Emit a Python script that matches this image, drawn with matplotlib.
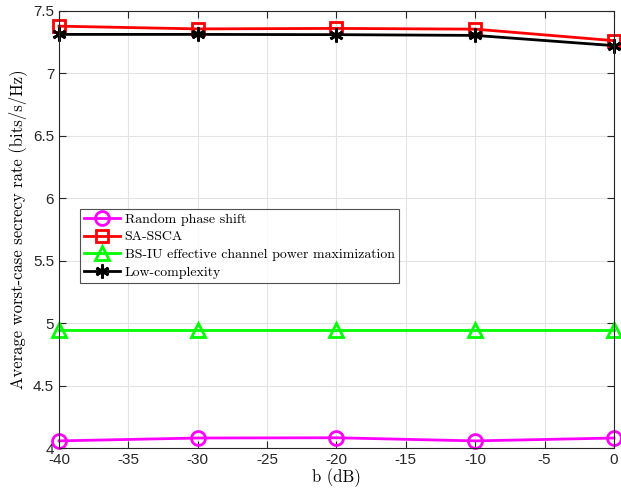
import matplotlib
matplotlib.use("Agg")
import matplotlib.pyplot as plt

b_db = [-40, -30, -20, -10, 0]
random_phase = [4.057, 4.08, 4.082, 4.057, 4.08]
sa_ssca = [7.378, 7.356, 7.36, 7.354, 7.262]
bs_iu = [4.946, 4.946, 4.946, 4.946, 4.946]
low_complexity = [7.312, 7.312, 7.31, 7.304, 7.222]

xticks = [-40, -35, -30, -25, -20, -15, -10, -5, 0]
yticks = [4, 4.5, 5, 5.5, 6, 6.5, 7, 7.5]
yticklabels = ["4", "4.5", "5", "5.5", "6", "6.5", "7", "7.5"]

plt.rcParams['axes.unicode_minus'] = False
fig = plt.figure(figsize=(6.21, 4.90), dpi=100)
ax = fig.add_axes([0.095, 0.0857, 0.8937, 0.892])

lw = 2.0
ax.plot(b_db, random_phase, color='#ff00ff', marker='o', ms=10, mfc='none', mew=2, lw=lw, label='Random phase shift', clip_on=False)
ax.plot(b_db, sa_ssca, color='#ff0000', marker='s', ms=9, mfc='none', mew=2, lw=lw, label='SA-SSCA', clip_on=False)
ax.plot(b_db, bs_iu, color='#00ff00', marker='^', ms=10, mfc='none', mew=2, lw=lw, label='BS-IU effective channel power maximization', clip_on=False)
ax.plot(b_db, low_complexity, color='black', marker=(6, 2, 0), ms=10, mew=2, lw=lw, label='Low-complexity', clip_on=False)

ax.set_xlim(-40, 0)
ax.set_ylim(4, 7.5)
ax.set_xticks(xticks)
ax.set_xticklabels([str(x) for x in xticks], fontfamily='Liberation Sans', fontsize=11)
ax.set_yticks(yticks)
ax.set_yticklabels(yticklabels, fontfamily='Liberation Sans', fontsize=11)
ax.grid(True, color='#e3e3e3', lw=0.8)
ax.set_axisbelow(True)
ax.tick_params(direction='in', top=True, right=True, length=5, colors='#262626')
for s in ax.spines.values():
    s.set_color('#262626')
    s.set_linewidth(0.8)

ax.set_xlabel('b (dB)', fontfamily='cmr10', fontsize=12, labelpad=1)
ax.set_ylabel('Average worst-case secrecy rate (bits/s/Hz)', fontfamily='cmr10', fontsize=12, labelpad=4)

leg = ax.legend(loc='upper left', bbox_to_anchor=(0.038, 0.547), prop={'family': 'cmr10', 'size': 10},
                frameon=True, fancybox=False, edgecolor='#262626', handlelength=2.6, borderpad=0.3,
                labelspacing=0.35, handletextpad=0.3, borderaxespad=0)
leg.get_frame().set_linewidth(0.8)

fig.savefig('out.png', dpi=100)
